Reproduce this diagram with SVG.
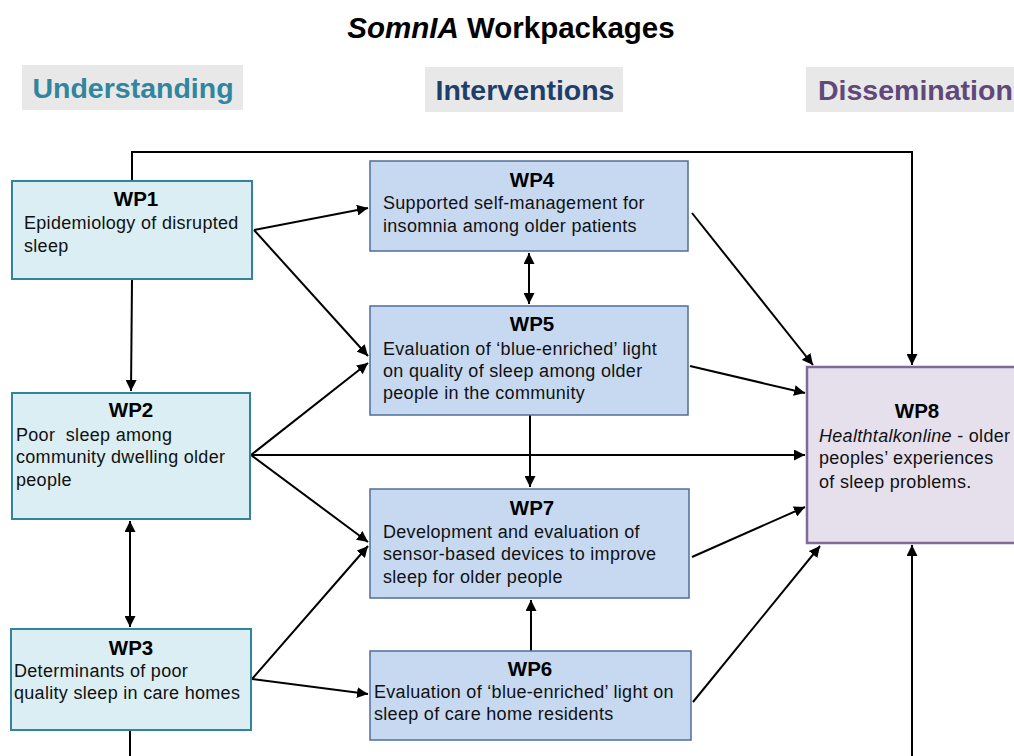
<svg xmlns="http://www.w3.org/2000/svg" width="1014" height="756" viewBox="0 0 1014 756">
<defs>
<marker id="ah" viewBox="0 0 10 10" refX="10" refY="5" markerWidth="5.5" markerHeight="5.5" orient="auto-start-reverse" markerUnits="strokeWidth">
<path d="M0,0 L10,5 L0,10 z" fill="#000"/>
</marker>
<style>
.t{font-family:"Liberation Sans",Arial,sans-serif}
.h{font-family:"Liberation Sans",Arial,sans-serif;font-weight:bold;font-size:28.5px}
.tag{fill:#E8E8E8}
.u{fill:#DAEEF3;stroke:#31849B;stroke-width:2}
.i{fill:#C6D9F1;stroke:#4F6F97;stroke-width:1.5}
.d{fill:#E5E0EC;stroke:#7F6A99;stroke-width:2.5}
.wp{font-family:"Liberation Sans",Arial,sans-serif;font-weight:bold;font-size:20.5px;text-anchor:middle;fill:#000}
.tx{font-family:"Liberation Sans",Arial,sans-serif;font-size:18px;letter-spacing:0.3px;fill:#111}
.c{fill:none;stroke:#000;stroke-width:2}
</style>
</defs>
<rect width="1014" height="756" fill="#fff"/>
<text class="t" x="511" y="38" text-anchor="middle" font-size="29.5" font-weight="bold"><tspan font-style="italic">SomnIA</tspan> Workpackages</text>
<g id="hdr-understanding"><rect class="tag" x="22" y="65" width="221" height="45"/><text class="h" x="133" y="98" text-anchor="middle" fill="#31859C">Understanding</text></g>
<g id="hdr-interventions"><rect class="tag" x="425" y="67" width="198" height="45"/><text class="h" x="525" y="100" text-anchor="middle" fill="#1F3F6B">Interventions</text></g>
<g id="hdr-dissemination"><rect class="tag" x="806" y="67" width="210" height="45"/><text class="h" x="818" y="100" fill="#5F497A">Dissemination</text></g>
<g id="connectors">
<path class="c" d="M132,181 V152 H912 V365" marker-end="url(#ah)"/>
<path class="c" d="M132,279 L131,391" marker-end="url(#ah)"/>
<path class="c" d="M130,521 L130,627" marker-start="url(#ah)" marker-end="url(#ah)"/>
<path class="c" d="M529,253 L529,304" marker-start="url(#ah)" marker-end="url(#ah)"/>
<path class="c" d="M530,415 L530,487" marker-end="url(#ah)"/>
<path class="c" d="M531,651 L531,600" marker-end="url(#ah)"/>
<path class="c" d="M130,730 V780 H912 V545" marker-end="url(#ah)"/>
<path class="c" d="M254,230 L368,208" marker-end="url(#ah)"/>
<path class="c" d="M254,230 L368,356" marker-end="url(#ah)"/>
<path class="c" d="M251,455 L368,363" marker-end="url(#ah)"/>
<path class="c" d="M251,455 L805,455" marker-end="url(#ah)"/>
<path class="c" d="M251,455 L368,542" marker-end="url(#ah)"/>
<path class="c" d="M252,679 L368,546" marker-end="url(#ah)"/>
<path class="c" d="M252,679 L368,694" marker-end="url(#ah)"/>
<path class="c" d="M692,213 L813,365" marker-end="url(#ah)"/>
<path class="c" d="M690,366 L805,393" marker-end="url(#ah)"/>
<path class="c" d="M692,557 L805,507" marker-end="url(#ah)"/>
<path class="c" d="M693,702 L820,546" marker-end="url(#ah)"/>
</g>
<g id="wp1"><rect class="u" x="12" y="181" width="240" height="98"/><text class="wp" x="136" y="206">WP1</text><text class="tx" x="24" y="229">Epidemiology of disrupted</text><text class="tx" x="24" y="252">sleep</text></g>
<g id="wp2"><rect class="u" x="12" y="393" width="238" height="126"/><text class="wp" x="131" y="417">WP2</text><text class="tx" x="16" y="441" style="white-space:pre">Poor  sleep among</text><text class="tx" x="16" y="463">community dwelling older</text><text class="tx" x="16" y="486">people</text></g>
<g id="wp3"><rect class="u" x="11" y="629" width="240" height="101"/><text class="wp" x="131" y="655">WP3</text><text class="tx" x="14" y="677">Determinants of poor</text><text class="tx" x="14" y="699">quality sleep in care homes</text></g>
<g id="wp4"><rect class="i" x="370" y="161" width="318" height="90"/><text class="wp" x="532" y="187">WP4</text><text class="tx" x="383" y="209">Supported self-management for</text><text class="tx" x="383" y="232">insomnia among older patients</text></g>
<g id="wp5"><rect class="i" x="370" y="306" width="318" height="109"/><text class="wp" x="532" y="331">WP5</text><text class="tx" x="383" y="355">Evaluation of ‘blue-enriched’ light</text><text class="tx" x="383" y="377">on quality of sleep among older</text><text class="tx" x="383" y="399">people in the community</text></g>
<g id="wp7"><rect class="i" x="370" y="489" width="319" height="109"/><text class="wp" x="532" y="515">WP7</text><text class="tx" x="383" y="538">Development and evaluation of</text><text class="tx" x="383" y="560">sensor-based devices to improve</text><text class="tx" x="383" y="583">sleep for older people</text></g>
<g id="wp6"><rect class="i" x="370" y="651" width="321" height="89"/><text class="wp" x="530" y="676">WP6</text><text class="tx" x="374" y="698">Evaluation of ‘blue-enriched’ light on</text><text class="tx" x="374" y="720">sleep of care home residents</text></g>
<g id="wp8"><rect class="d" x="807" y="367" width="220" height="176"/><text class="wp" x="917" y="418">WP8</text><text class="tx" x="819" y="442"><tspan font-style="italic">Healthtalkonline</tspan> - older</text><text class="tx" x="819" y="464">peoples’ experiences</text><text class="tx" x="819" y="488">of sleep problems.</text></g>
</svg>
